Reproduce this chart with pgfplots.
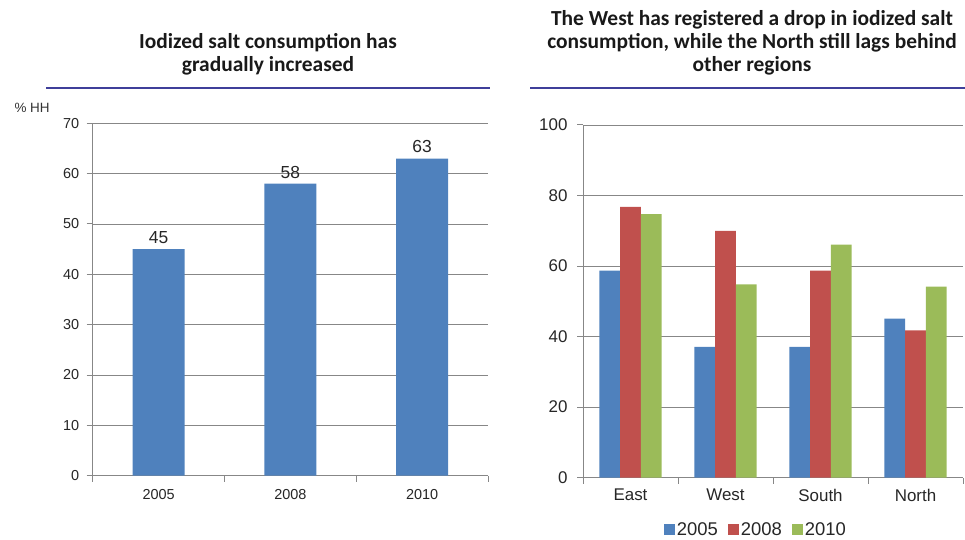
\documentclass[border=0pt]{standalone}
\usepackage{pgfplots}
\pgfplotsset{compat=1.18}
\usepackage{fontspec}
\setmainfont{Liberation Sans}
\newfontfamily\titlefont{Carlito}
\definecolor{cB}{HTML}{4F81BD}
\definecolor{cR}{HTML}{C0504D}
\definecolor{cG}{HTML}{9BBB59}
\definecolor{gridc}{HTML}{878787}
\definecolor{tline}{HTML}{3F3F9A}
\begin{document}
\begin{tikzpicture}
\useasboundingbox (0,0) rectangle (965bp,540bp);
\node[font=\titlefont\bfseries\fontsize{21.5}{23}\selectfont, align=center, text=black!90] at (268bp,486bp) {Iodized salt consumption has\\gradually increased};
\node[font=\titlefont\bfseries\fontsize{21.5}{23}\selectfont, align=center, text=black!90] at (752bp,497bp) {The West has registered a drop in iodized salt\\consumption, while the North still lags behind\\other regions};
\draw[color=tline, line width=2.5bp] (46bp,452bp) -- (490bp,452bp);
\draw[color=tline, line width=2.5bp] (530bp,452bp) -- (965bp,452bp);
\node[anchor=west, font=\fontsize{13.5}{15}\selectfont, text=black!80] at (11bp,432bp) {\% HH};

\pgfplotsset{
  mystyle/.style={
    scale only axis,
    enlargelimits=false,
    axis lines*=left,
    axis line style={color=gridc, line width=1bp},
    ymajorgrids,
    grid style={color=gridc, line width=0.9bp},
    tick align=outside,
    major tick length=6bp,
    minor tick length=6bp,
    major x tick style={draw=none},
    minor x tick style={color=gridc, line width=1bp},
    y tick style={color=gridc, line width=1bp},
    /pgf/number format/assume math mode=true,
    xminorgrids=false,
  }
}

\begin{axis}[mystyle,
  at={(92.7bp,64.3bp)}, anchor=south west,
  width=395.3bp, height=352.4bp,
  xmin=-0.5, xmax=2.5, ymin=0, ymax=70,
  ybar, bar width=52bp,
  ytick={0,10,...,70},
  xtick={0,1,2}, xticklabels={2005,2008,2010},
  minor xtick={-0.5,0.5,1.5,2.5},
  tick label style={font=\fontsize{14.5}{16}\selectfont, text=black!85},
  yticklabel style={xshift=-4bp},
  xticklabel style={yshift=-4bp},
  nodes near coords,
  nodes near coords style={font=\fontsize{17.5}{19}\selectfont, text=black!85, yshift=2bp},
]
\addplot[fill=cB, draw=none] coordinates {(0,45) (1,58) (2,63)};
\end{axis}

\begin{axis}[mystyle,
  at={(583bp,62.3bp)}, anchor=south west,
  width=380bp, height=352.7bp,
  xmin=-0.5, xmax=3.5, ymin=0, ymax=100,
  ybar=0pt, bar width=20.7bp,
  ytick={0,20,...,100},
  xtick={0,1,2,3}, xticklabels={East,West,South,North},
  minor xtick={-0.5,0.5,1.5,2.5,3.5},
  tick label style={font=\fontsize{17}{19}\selectfont, text=black!85},
  yticklabel style={xshift=-6bp},
  xticklabel style={yshift=-2bp},
  legend style={at={(0.455,-0.148)}, anchor=center, draw=none, fill=none,
    legend columns=-1, font=\fontsize{18.5}{20}\selectfont,
    /tikz/every even column/.append style={column sep=8bp},
    inner sep=0pt, text=black!85},
  legend image code/.code={\fill[#1] (0bp,-5bp) rectangle (11bp,6bp);},
]
\addplot[fill=cB, draw=none] coordinates {(0,58.7) (1,37.1) (2,37.1) (3,45.1)};
\addplot[fill=cR, draw=none] coordinates {(0,76.8) (1,70.0) (2,58.7) (3,41.8)};
\addplot[fill=cG, draw=none] coordinates {(0,74.7) (1,54.8) (2,66.1) (3,54.2)};
\legend{2005,2008,2010}
\end{axis}
\end{tikzpicture}
\end{document}
